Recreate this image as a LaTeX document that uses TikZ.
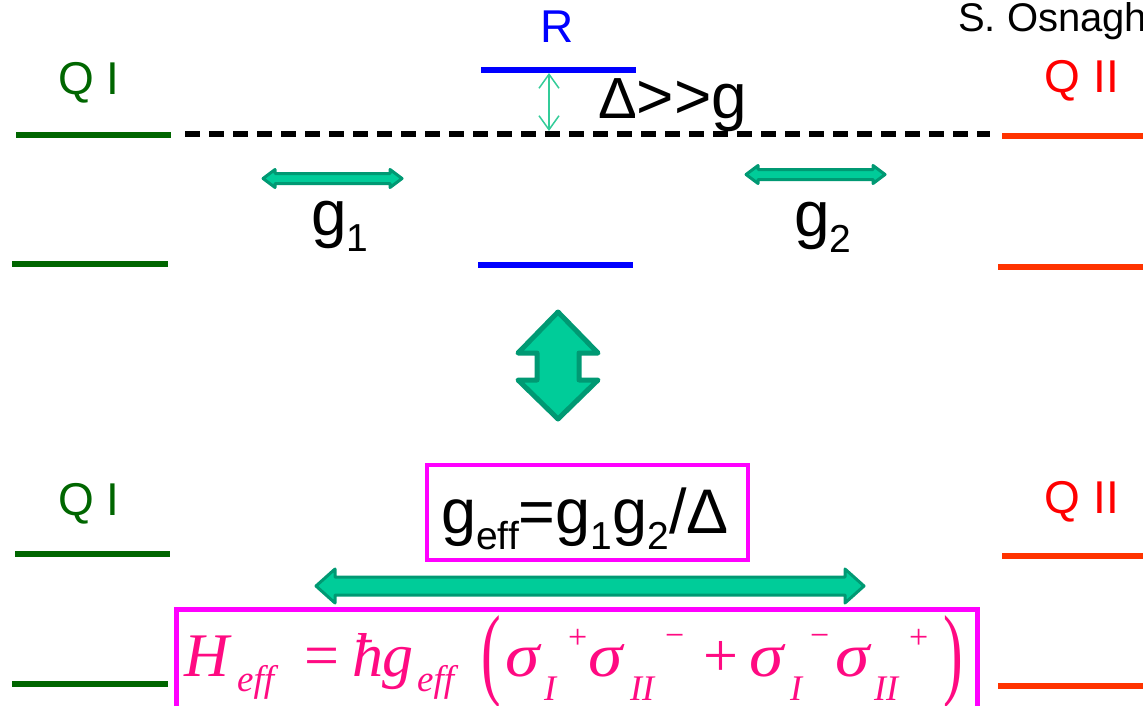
\documentclass[tikz,border=0pt]{standalone}
\usepackage{fontspec}
\usepackage{graphicx}
\setmainfont{Liberation Sans}
\newfontfamily\tnr{Liberation Serif}
\usetikzlibrary{arrows.meta}
\definecolor{qgreen}{HTML}{006600}
\definecolor{qred}{HTML}{FF0000}
\definecolor{lred}{HTML}{FF3300}
\definecolor{rblue}{HTML}{0000FF}
\definecolor{afill}{HTML}{00CC99}
\definecolor{aedge}{HTML}{009973}
\definecolor{thinarr}{HTML}{33CC99}
\definecolor{boxmag}{HTML}{FF00FF}
\definecolor{fpink}{HTML}{FF0A82}
\newcommand\fs[1]{\fontsize{#1}{#1}\selectfont}
\newcommand\gsub[1]{\raisebox{-16pt}{\fs{39}#1}}
\newcommand\hblock[6]{%
  \draw[blockarrow] (#1,#3) -- ({#1+#6},{#3-#5}) -- ({#1+#6},{#3-#4}) -- ({#2-#6},{#3-#4})
   -- ({#2-#6},{#3-#5}) -- (#2,#3) -- ({#2-#6},{#3+#5}) -- ({#2-#6},{#3+#4})
   -- ({#1+#6},{#3+#4}) -- ({#1+#6},{#3+#5}) -- cycle;}
\tikzset{
  blockarrow/.style={fill=afill, draw=aedge, line width=3pt, line join=round},
  level/.style={line width=6.5pt},
  qlabel/.style={font=\fs{46}, anchor=base, inner sep=0pt},
  bigtext/.style={font=\fs{64}, anchor=base west, inner sep=0pt},
  fm/.style={font=\tnr\fs{62}\itshape, text=fpink, anchor=base west, inner sep=0pt},
  fmup/.style={fm, font=\tnr\fs{62}\upshape},
  fsb/.style={fm, font=\tnr\fs{36}\itshape},
  fsff/.style={fm, font=\tnr\fs{37}\itshape},
  fsp/.style={fm, font=\tnr\fs{34}\upshape},
  fpar/.style={fm, font=\tnr\fs{62}\upshape},
}
\newcommand\sgmglyph{\scalebox{1.12}[1]{σ}}
\begin{document}
\begin{tikzpicture}[x=1pt,y=-1pt]
\useasboundingbox (0,0) rectangle (1143,706);
\clip (0,0) rectangle (1143,706);
% top part: levels
\draw[level, qgreen] (16,135) -- (171,135);
\draw[level, qgreen] (12,264) -- (168,264);
\draw[level, lred] (1002,136) -- (1143,136);
\draw[level, lred] (998,267) -- (1143,267);
\draw[level, rblue] (481,70) -- (636,70);
\draw[level, rblue] (478,265) -- (633,265);
\draw[line width=6pt, dash pattern=on 15pt off 9pt] (185,134) -- (990,134);
\coordinate (rtop) at (549,73);
\coordinate (rbot) at (549,131);
\draw[thinarr, line width=1.5pt, {Straight Barb[length=14pt,width=20pt]}-{Straight Barb[length=14pt,width=20pt]}] (rtop) -- (rbot);
% labels
\node[qlabel, text=qgreen] (q1a) at (89,95) {Q I};
\node[qlabel, text=qred] (q2a) at (1082,93) {Q II};
\node[qlabel, text=rblue] (r) at (557,43) {R};
\node[font=\fs{40}, anchor=base west, inner sep=0pt] (auth) at (958,32) {S. Osnaghi};
\node[bigtext] (delta) at (598,119) {{\fs{58}Δ}\mbox{>}\mbox{>}g};
\node[bigtext] (g1) at (311,235) {g\gsub{1}};
\node[bigtext] (g2) at (794,236) {g\gsub{2}};
% coupling arrows
\hblock{263}{402}{178.5}{5}{9}{12}
\hblock{746}{885}{174.5}{5}{9}{12}
% big vertical arrow
\draw[fill=afill, draw=aedge, line width=5pt, line join=round]
  (558,312) -- (598,353) -- (579,353) -- (579,380) -- (598,380) -- (558,419)
  -- (518,380) -- (537,380) -- (537,353) -- (518,353) -- cycle;
% bottom part
\draw[level, qgreen] (15,554) -- (170,554);
\draw[level, qgreen] (12,684) -- (168,684);
\draw[level, lred] (1002,556) -- (1143,556);
\draw[level, lred] (998,686) -- (1143,686);
\node[qlabel, text=qgreen] (q1b) at (89,515) {Q I};
\node[qlabel, text=qred] (q2b) at (1082,513) {Q II};
\node[draw=boxmag, line width=4pt, minimum width=321pt, minimum height=95pt, inner sep=0pt] (gbox) at (587.5,512.5) {};
\node[bigtext, font=\fs{63}] (geff) at (441,533) {g\gsub{eff}=g\gsub{1}g\gsub{2}/Δ};
\hblock{316}{864}{586}{9}{17}{19}
\draw[boxmag, line width=5pt] (176,760) rectangle (977,609);
% effective Hamiltonian
\node[fm] (fH) at (184,676) {H};
\node[fsff] (fe1) at (237,691) {eff};
\node[fmup] (feq) at (304,676) {=};
\node[fm] (fhb) at (352,676) {ħ};
\node[fm] (fg) at (382,676) {g};
\node[fsff] (fe2) at (417,691) {eff};
\node[fpar] (flp) at (481,686) {\scalebox{0.95}[1.65]{(}};
\node[fm] (fs1) at (505,676) {\sgmglyph};
\node[fsb] (fi1) at (544,700) {I};
\node[fsp] (fp1) at (568,648) {+};
\node[fm] (fs2) at (588,676) {\sgmglyph};
\node[fsb] (fi2) at (630,700) {II};
\node[fsp] (fm1) at (665,646) {−};
\node[fmup] (fplus) at (703,676) {+};
\node[fm] (fs3) at (749,676) {\sgmglyph};
\node[fsb] (fi3) at (790,700) {I};
\node[fsp] (fm2) at (810,646) {−};
\node[fm] (fs4) at (835,676) {\sgmglyph};
\node[fsb] (fi4) at (874,700) {II};
\node[fsp] (fp2) at (909,648) {+};
\node[fpar] (frp) at (943,686) {\scalebox{0.95}[1.65]{)}};
\end{tikzpicture}
\end{document}
